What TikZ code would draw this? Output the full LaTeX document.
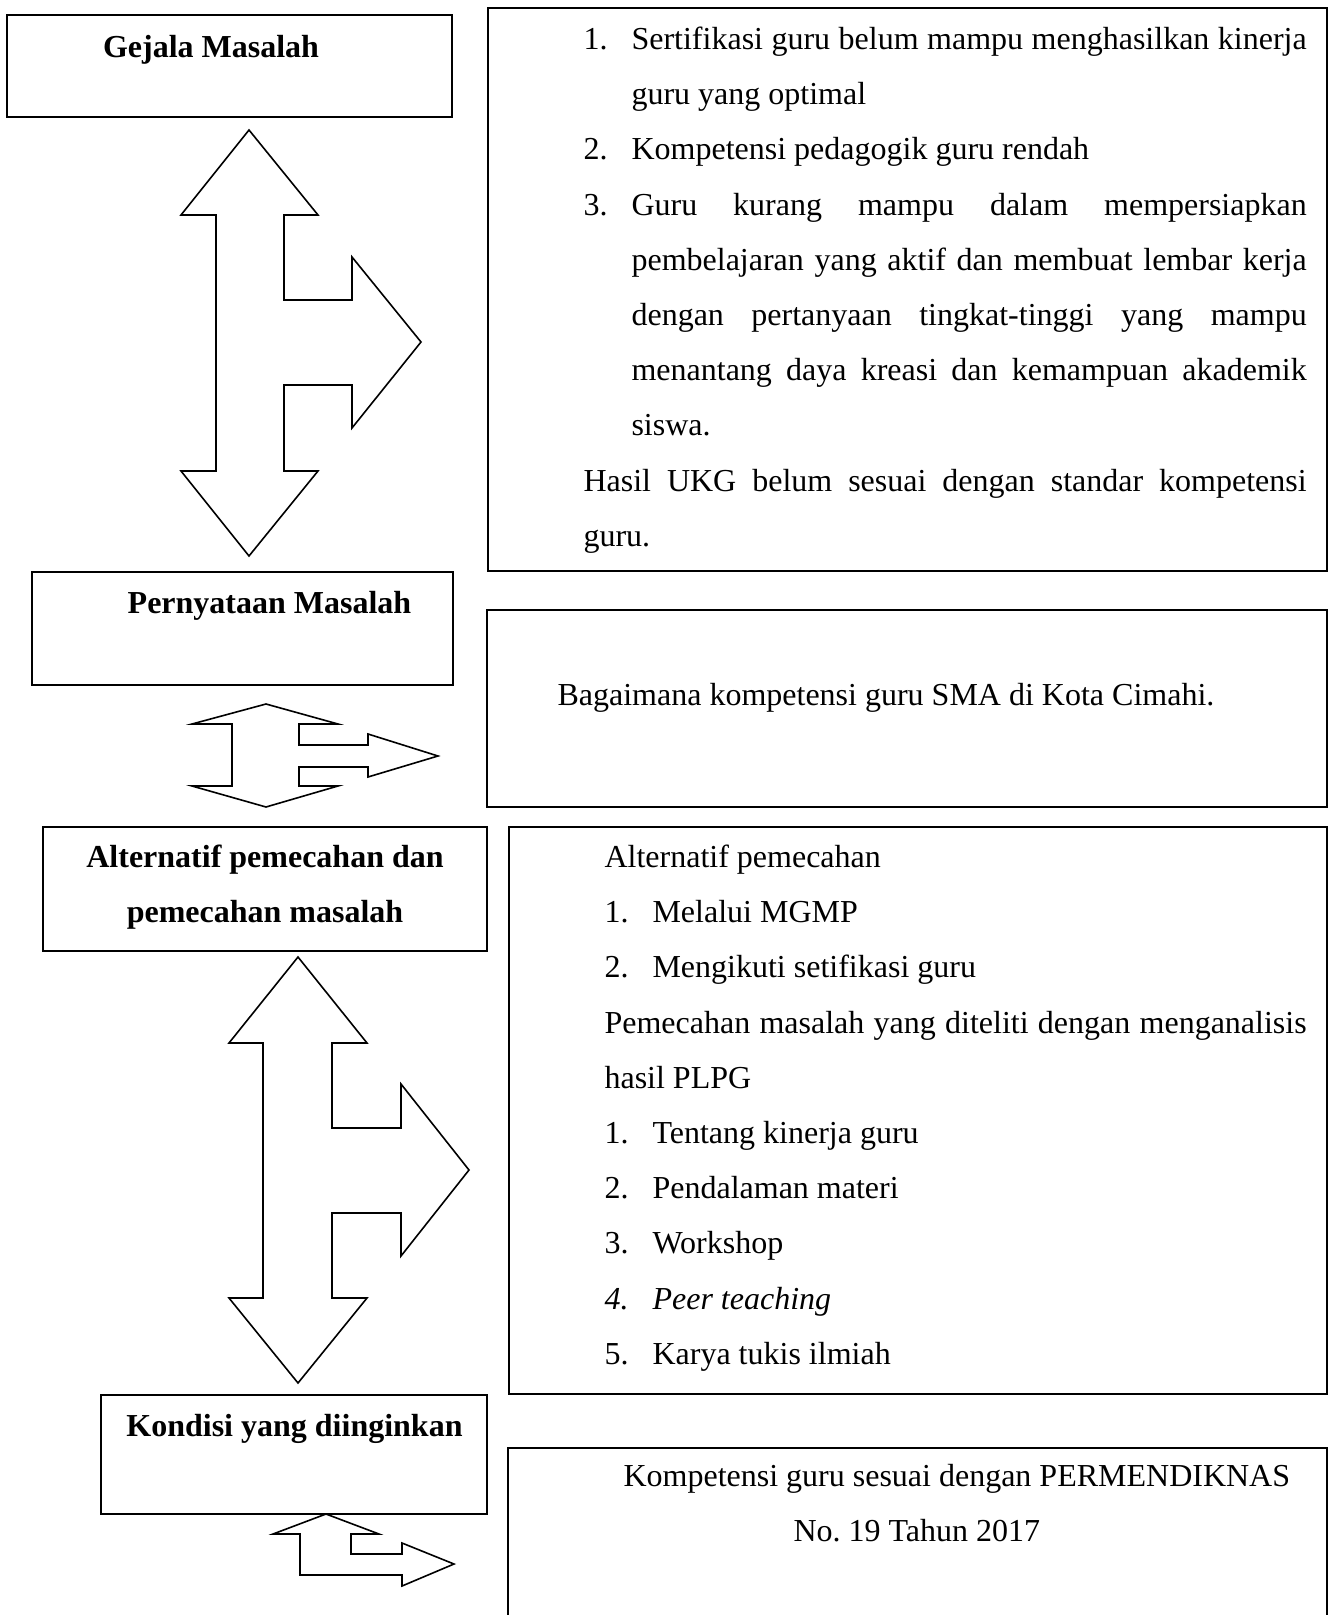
\documentclass[tikz,border=0pt]{standalone}
\usepackage{fontspec}
\setmainfont{Liberation Serif}
\frenchspacing
\newcommand{\numitem}[1]{\hangindent=18pt\hangafter=1\noindent\makebox[18pt][l]{#1}}

\begin{document}
\begin{tikzpicture}[x=0.375pt, y=-0.375pt,
	boxline/.style={line width=0.8pt},
	arrowshape/.style={line width=0.6pt, fill=white, line join=miter},
	headline/.style={font=\fontsize{12}{20.7}\selectfont\bfseries, inner sep=0pt},
	bodytext/.style={font=\fontsize{12}{20.7}\selectfont, inner sep=0pt, anchor=north west, align=justify}]
	\useasboundingbox (0,0) rectangle (1329,1615);
	%Gejala Masalah
	\draw[boxline] (7,15) rectangle (452,117);
	\node[headline, anchor=base] (gejala) at (211,58) {Gejala Masalah};
	\draw[boxline] (488,8) rectangle (1327,571);
	\node[bodytext, text width=271.2pt] (gejalaisi) at (583,10.4) {\sloppy
		\numitem{1.}\strut Sertifikasi guru belum mampu menghasilkan kinerja\linebreak guru yang optimal\par
		\numitem{2.}Kompetensi pedagogik guru rendah\par
		\numitem{3.}Guru kurang mampu dalam mempersiapkan\linebreak pembelajaran yang aktif dan membuat lembar kerja\linebreak dengan pertanyaan tingkat-tinggi yang mampu\linebreak menantang daya kreasi dan kemampuan akademik\linebreak siswa.\par
		\noindent Hasil UKG belum sesuai dengan standar kompetensi\linebreak guru.};
	\draw[arrowshape] (249,130) -- (318,215) -- (284,215) -- (284,300) -- (352,300) -- (352,257) -- (421,342) -- (352,428) -- (352,385) -- (284,385) -- (284,471) -- (318,471) -- (249,556) -- (181,471) -- (216,471) -- (216,215) -- (181,215) -- cycle;
	%Pernyataan Masalah
	\draw[boxline] (32,572) rectangle (453,685);
	\node[headline, anchor=base] (pernyataan) at (269.5,613) {Pernyataan Masalah};
	\draw[boxline] (487,610) rectangle (1327,807);
	\node[bodytext, anchor=base west] (pernyataanisi) at (557,705) {Bagaimana kompetensi guru SMA di Kota Cimahi.};
	\draw[arrowshape] (266,704) -- (338,724) -- (299,724) -- (299,745) -- (368,745) -- (368,734) -- (438,756) -- (368,777) -- (368,767) -- (299,767) -- (299,786) -- (338,786) -- (266,807) -- (192,786) -- (232,786) -- (232,724) -- (192,724) -- cycle;
	%Alternatif pemecahan
	\draw[boxline] (43,827) rectangle (487,951);
	\node[headline, align=center, anchor=north] (alternatif) at (265,828.4) {\strut Alternatif pemecahan dan\\pemecahan masalah};
	\draw[boxline] (509,827) rectangle (1327,1394);
	\node[bodytext, text width=263.3pt] (alternatifisi) at (604,828.4) {\sloppy
		\noindent\strut Alternatif pemecahan\par
		\numitem{1.}Melalui MGMP\par
		\numitem{2.}Mengikuti setifikasi guru\par
		\noindent Pemecahan masalah yang diteliti dengan menganalisis\linebreak hasil PLPG\par
		\numitem{1.}Tentang kinerja guru\par
		\numitem{2.}Pendalaman materi\par
		\numitem{3.}Workshop\par
		\numitem{\textit{4.}}\textit{Peer teaching}\par
		\numitem{5.}Karya tukis ilmiah};
	\draw[arrowshape] (298,957) -- (367,1043) -- (332,1043) -- (332,1128) -- (401,1128) -- (401,1084) -- (469,1170) -- (401,1256) -- (401,1213) -- (332,1213) -- (332,1298) -- (367,1298) -- (298,1383) -- (229,1298) -- (263,1298) -- (263,1043) -- (229,1043) -- cycle;
	%Kondisi yang diinginkan
	\draw[boxline] (101,1395) rectangle (487,1514);
	\node[headline, anchor=base] (kondisi) at (294.5,1436) {Kondisi yang diinginkan};
	\draw[boxline] (508,1620) -- (508,1448) -- (1327,1448) -- (1327,1620);
	\node[bodytext, align=left] (kondisiisi) at (623,1447.4) {\strut Kompetensi guru sesuai dengan PERMENDIKNAS\\\hspace*{63.75pt}No. 19 Tahun 2017};
	\draw[arrowshape] (326,1514) -- (379,1534) -- (351,1534) -- (351,1554) -- (402,1554) -- (402,1543) -- (454,1564) -- (402,1586) -- (402,1575) -- (300,1575) -- (300,1534) -- (273,1534) -- cycle;
\end{tikzpicture}
\end{document}
